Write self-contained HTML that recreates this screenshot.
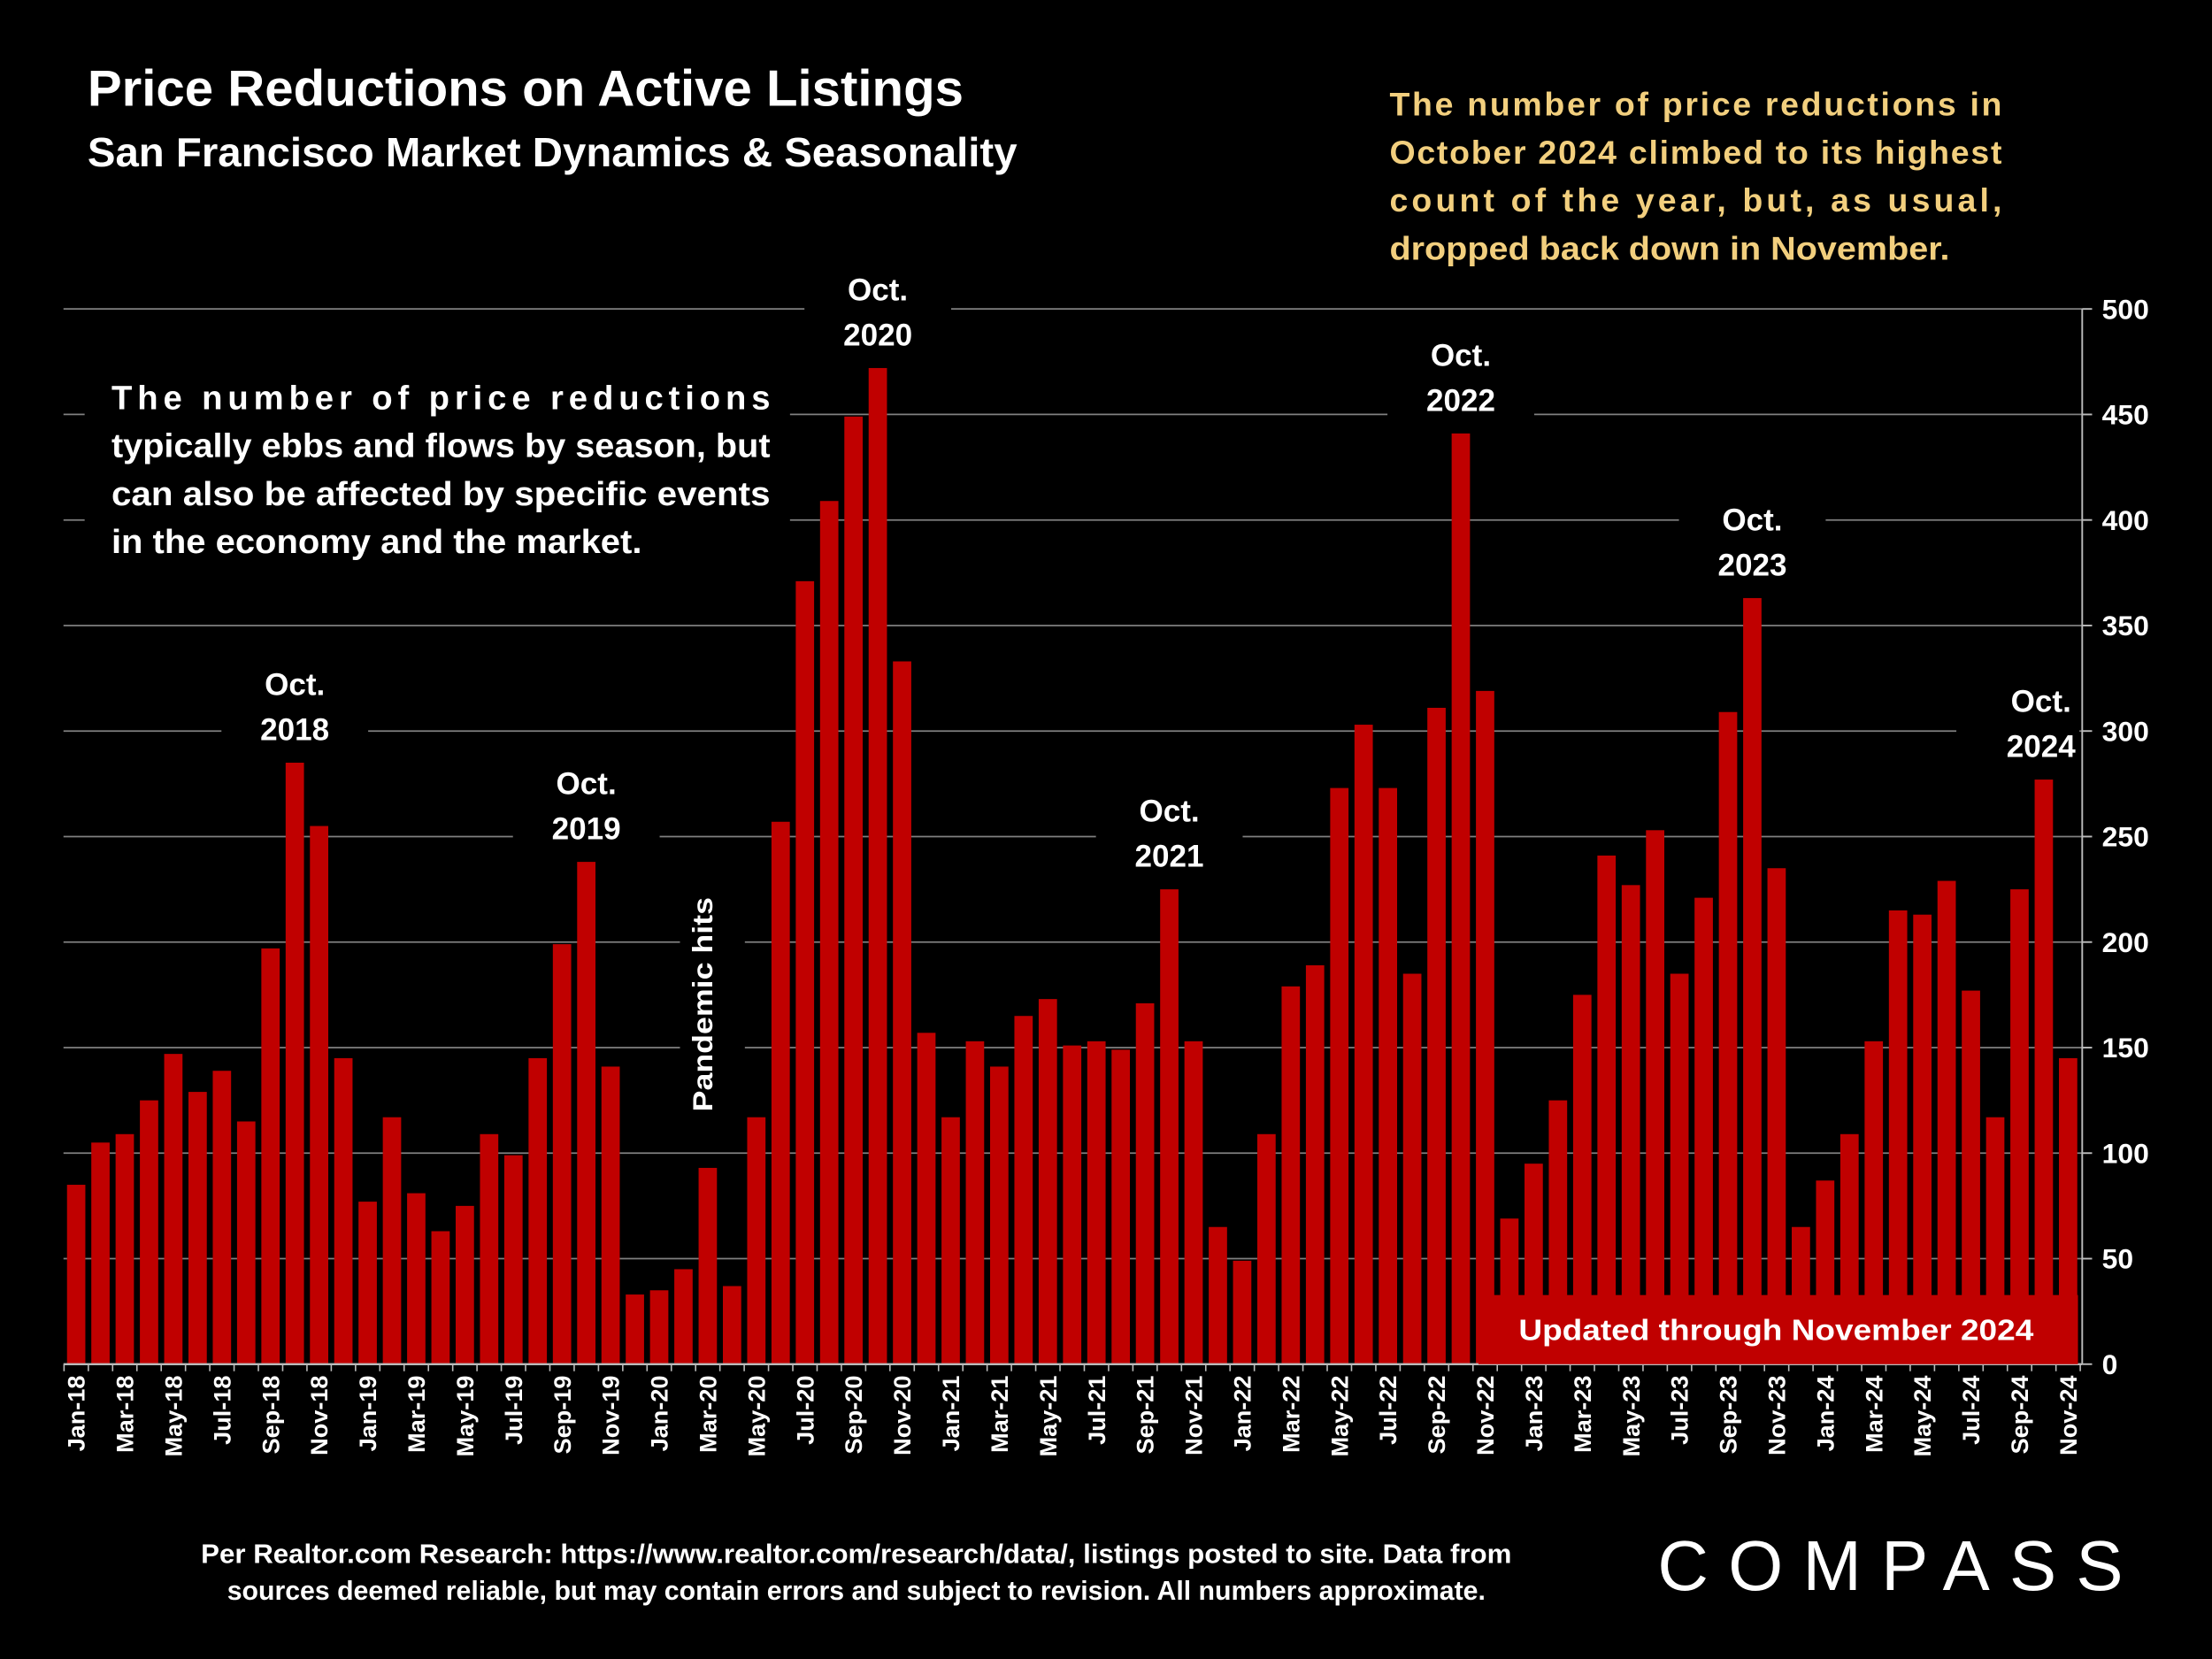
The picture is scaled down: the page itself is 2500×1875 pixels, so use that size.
<!DOCTYPE html>
<html><head><meta charset="utf-8"><style>
html,body{margin:0;padding:0;background:#000;}
svg{display:block;}
text{font-family:"Liberation Sans",sans-serif;font-weight:bold;}
</style></head><body>
<svg id="chart" width="2500" height="1875" viewBox="0 0 1568 1176" xmlns="http://www.w3.org/2000/svg">
<rect width="1568" height="1176" fill="#000"/>
<text x="62" y="75" fill="#fff" font-size="36" textLength="621" lengthAdjust="spacingAndGlyphs">Price Reductions on Active Listings</text>
<text x="62" y="118" fill="#fff" font-size="29" textLength="659" lengthAdjust="spacingAndGlyphs">San Francisco Market Dynamics &amp; Seasonality</text>
<g fill="#f2cf7e" font-size="23.5">
<text x="985" y="82" textLength="434" lengthAdjust="spacing">The number of price reductions in</text>
<text x="985" y="116" textLength="434" lengthAdjust="spacing">October 2024 climbed to its highest</text>
<text x="985" y="150" textLength="434" lengthAdjust="spacing">count of the year, but, as usual,</text>
<text x="985" y="184" textLength="397" lengthAdjust="spacingAndGlyphs">dropped back down in November.</text>
</g>
<g id="grid"></g>
<g id="masks"></g>
<g id="yaxis"></g>
<g id="bars"></g>
<g id="xaxis"></g>
<g fill="#fff" font-size="24">
<text x="79" y="290" textLength="467" lengthAdjust="spacing">The number of price reductions</text>
<text x="79" y="324" textLength="467" lengthAdjust="spacingAndGlyphs">typically ebbs and flows by season, but</text>
<text x="79" y="358" textLength="467" lengthAdjust="spacingAndGlyphs">can also be affected by specific events</text>
<text x="79" y="392" textLength="376" lengthAdjust="spacingAndGlyphs">in the economy and the market.</text>
</g>
<text transform="translate(505,712) rotate(-90)" text-anchor="middle" fill="#fff" font-size="20" textLength="152" lengthAdjust="spacingAndGlyphs">Pandemic hits</text>
<rect x="1048" y="918" width="425" height="49" fill="#c00000"/>
<text x="1259" y="950" text-anchor="middle" fill="#fff" font-size="21" textLength="365" lengthAdjust="spacingAndGlyphs">Updated through November 2024</text>
<g fill="#fff" font-size="19" text-anchor="middle">
<text x="607" y="1108" textLength="929" lengthAdjust="spacingAndGlyphs">Per Realtor.com Research:  https://www.realtor.com/research/data/, listings posted to site. Data from</text>
<text x="607" y="1134" textLength="892" lengthAdjust="spacingAndGlyphs">sources deemed reliable, but may contain errors and subject to revision. All numbers approximate.</text>
</g>
<text x="1340" y="1127" text-anchor="middle" fill="#fff" font-size="50" textLength="330" lengthAdjust="spacing" style="font-weight:normal">COMPASS</text>
<script>
const months=["Jan","Feb","Mar","Apr","May","Jun","Jul","Aug","Sep","Oct","Nov","Dec"];
const years=[18,19,20,21,22,23,24];
const values=[85,105,109,125,147,129,139,115,197,285,255,145,
77,117,81,63,75,109,99,145,199,238,141,33,
35,45,93,37,117,257,371,409,449,472,333,157,
117,153,141,165,173,151,153,149,171,225,153,65,
49,109,179,189,273,303,273,185,311,441,319,69,
95,125,175,241,227,253,185,221,309,363,235,65,
87,109,153,215,213,229,177,117,225,277,145];
const yTicks=[0,50,100,150,200,250,300,350,400,450,500];
const annoLabels=["Oct. 2018","Oct. 2019","Oct. 2020","Oct. 2021","Oct. 2022","Oct. 2023","Oct. 2024"];
const annoIdx=[9,21,33,45,57,69,81];
const NS="http://www.w3.org/2000/svg";
const y0=967,y1=219,x0=54,x1=1466;
const ys=v=>y0-(v/500)*(y0-y1);
const xs=i=>x0+i*(x1-x0)/82;
const cats=[];years.forEach(y=>months.forEach(m=>cats.push(m+"-"+y)));
function mk(t,a,p){const e=document.createElementNS(NS,t);for(const k in a)e.setAttribute(k,a[k]);p.appendChild(e);return e;}
const grid=document.getElementById('grid'),yax=document.getElementById('yaxis'),bars=document.getElementById('bars'),xax=document.getElementById('xaxis'),masks=document.getElementById('masks');
yTicks.forEach(v=>{
 if(v>0){const l=mk('line',{x1:45,x2:1476,y1:ys(v),y2:ys(v),stroke:'#808080','stroke-width':1.1},grid);
 
 }
 mk('line',{x1:1476,x2:1483,y1:ys(v),y2:ys(v),stroke:'#bbb','stroke-width':1.2},yax);
 const t=mk('text',{x:1490,y:ys(v)+7,fill:'#fff','font-size':20},yax);t.textContent=v;
 
 
});
mk('line',{x1:1476,x2:1476,y1:y1,y2:y0,stroke:'#bbb','stroke-width':1.2},yax);
mk('rect',{x:60,y:262,width:500,height:140,fill:'#000'},masks);
values.forEach((v,i)=>{
 const r=mk('rect',{x:xs(i)-6.5,y:ys(v),width:13,height:y0-ys(v),fill:'#c00000'},bars);
 
 
});
annoIdx.forEach((idx,k)=>{
 const parts=annoLabels[k].split(' ');
 const cx=xs(idx)-(k==6?2:0);
 const base=ys(values[idx])-16;
 if(k==6) mk('rect',{x:cx-60,y:base-55,width:1474-(cx-60),height:60,fill:'#000'},masks);
 else mk('rect',{x:cx-52,y:base-55,width:104,height:62,fill:'#000'},masks);
 const g=mk('g',{},document.getElementById('chart'));
 
 
 const t1=mk('text',{x:cx,y:base-32,'text-anchor':'middle',fill:'#fff','font-size':22},g);t1.textContent=parts[0];
 const t2=mk('text',{x:cx,y:base,'text-anchor':'middle',fill:'#fff','font-size':22},g);t2.textContent=parts[1];
});
mk('rect',{x:482,y:620,width:46,height:180,fill:'#000'},masks);
mk('line',{x1:45,x2:1476,y1:y0,y2:y0,stroke:'#bbb','stroke-width':1.5},xax);
cats.forEach((c,i)=>{
 mk('line',{x1:xs(i)-8.6,x2:xs(i)-8.6,y1:y0,y2:y0+5,stroke:'#bbb','stroke-width':1},xax);
 if(i%2==0){
  const t=mk('text',{transform:`translate(${xs(i)+6},975) rotate(-90)`,'text-anchor':'end',fill:'#fff','font-size':17},xax);
  t.textContent=c;
  
  
 }
});
</script>
</svg>
</body></html>
